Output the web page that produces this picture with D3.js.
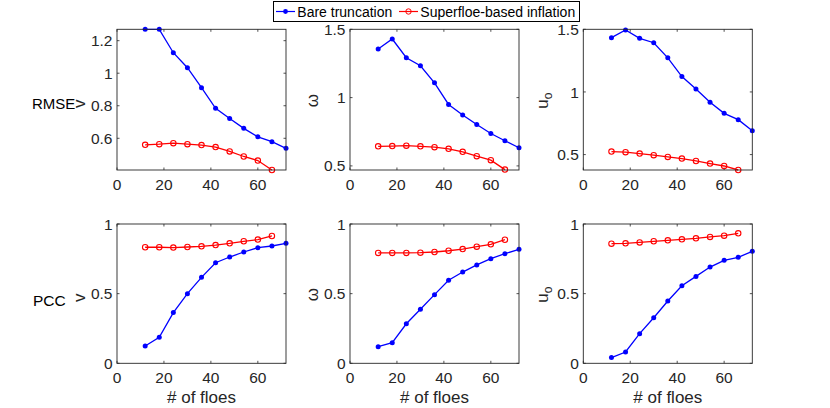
<!DOCTYPE html>
<html>
<head>
<meta charset="utf-8">
<script src="https://cdn.jsdelivr.net/npm/d3@7"></script>
<style>
  body { margin: 0; background: #fff; }
  svg { display: block; font-family: "Liberation Sans", Arial, sans-serif; }
</style>
</head>
<body>
<div id="chart"></div>
<script>
// number of floes (x values)
const floes = [12, 18, 24, 30, 36, 42, 48, 54, 60, 66, 72];

// RMSE, bare truncation
const rmseBareV = [1.27, 1.27, 1.126, 1.034, 0.911, 0.784, 0.722, 0.661, 0.609, 0.579, 0.538];
const rmseBareW = [1.356, 1.429, 1.292, 1.233, 1.108, 0.950, 0.872, 0.803, 0.737, 0.684, 0.633];
const rmseBareU = [1.433, 1.495, 1.428, 1.393, 1.272, 1.123, 1.024, 0.917, 0.829, 0.779, 0.691];
// RMSE, superfloe-based inflation
const rmseSuperV = [0.560, 0.564, 0.570, 0.564, 0.558, 0.546, 0.519, 0.488, 0.463, 0.405];
const rmseSuperW = [0.643, 0.645, 0.648, 0.643, 0.637, 0.625, 0.603, 0.571, 0.542, 0.473];
const rmseSuperU = [0.524, 0.519, 0.508, 0.495, 0.481, 0.468, 0.449, 0.428, 0.409, 0.377];

// PCC, bare truncation
const pccBareV = [0.124, 0.187, 0.364, 0.500, 0.617, 0.722, 0.763, 0.799, 0.830, 0.842, 0.861];
const pccBareW = [0.119, 0.148, 0.284, 0.388, 0.493, 0.596, 0.655, 0.706, 0.751, 0.787, 0.818];
const pccBareU = [0.041, 0.081, 0.213, 0.327, 0.447, 0.557, 0.624, 0.691, 0.739, 0.761, 0.804];
// PCC, superfloe-based inflation
const pccSuperV = [0.833, 0.833, 0.831, 0.835, 0.840, 0.849, 0.861, 0.876, 0.888, 0.914];
const pccSuperW = [0.792, 0.792, 0.792, 0.794, 0.799, 0.808, 0.820, 0.837, 0.854, 0.887];
const pccSuperU = [0.859, 0.861, 0.868, 0.876, 0.883, 0.890, 0.897, 0.907, 0.916, 0.933];

const seriesNames = ["Bare truncation", "Superfloe-based inflation"];
const rowLabels = ["RMSE", "PCC"];
const varLabels = [["v", ""], ["ω", ""], ["u", "o"]];
const xTicks = [0, 20, 40, 60];
const xLimits = [0, 72];
const rmseYLimits = [[0.405, 1.27], [0.47, 1.5], [0.377, 1.5]];
const rmseYTicks = [[0.6, 0.8, 1, 1.2], [0.5, 1, 1.5], [0.5, 1, 1.5]];
const pccYLimits = [0, 1];
const pccYTicks = [0, 0.5, 1];

const panels = [
  { row: 0, col: 0, bare: rmseBareV, sup: rmseSuperV, ylim: rmseYLimits[0], yticks: rmseYTicks[0] },
  { row: 0, col: 1, bare: rmseBareW, sup: rmseSuperW, ylim: rmseYLimits[1], yticks: rmseYTicks[1] },
  { row: 0, col: 2, bare: rmseBareU, sup: rmseSuperU, ylim: rmseYLimits[2], yticks: rmseYTicks[2] },
  { row: 1, col: 0, bare: pccBareV, sup: pccSuperV, ylim: pccYLimits, yticks: pccYTicks },
  { row: 1, col: 1, bare: pccBareW, sup: pccSuperW, ylim: pccYLimits, yticks: pccYTicks },
  { row: 1, col: 2, bare: pccBareU, sup: pccSuperU, ylim: pccYLimits, yticks: pccYTicks }
];

const width = 830, height = 408;
const axColor = "#262626";
const colLeft = [117, 350, 583.3];
const panelW = 169;
const rowTop = [29.3, 224];
const panelH = [140.7, 139.3];
const tickLen = 2.5;
const fmt = d3.format("~g");

const svg = d3.select("#chart").append("svg")
  .attr("width", width)
  .attr("height", height);

panels.forEach(p => {
  const x0 = colLeft[p.col], y0 = rowTop[p.row], h = panelH[p.row];
  const x = d3.scaleLinear().domain(xLimits).range([x0, x0 + panelW]);
  const y = d3.scaleLinear().domain(p.ylim).range([y0 + h, y0]);

  const g = svg.append("g");

  // ticks inward on all four sides
  const tk = g.append("g").attr("stroke", axColor).attr("stroke-width", 0.8);
  xTicks.forEach(t => {
    tk.append("line").attr("x1", x(t)).attr("x2", x(t)).attr("y1", y0 + h).attr("y2", y0 + h - tickLen);
    tk.append("line").attr("x1", x(t)).attr("x2", x(t)).attr("y1", y0).attr("y2", y0 + tickLen);
  });
  p.yticks.forEach(t => {
    tk.append("line").attr("x1", x0).attr("x2", x0 + tickLen).attr("y1", y(t)).attr("y2", y(t));
    tk.append("line").attr("x1", x0 + panelW).attr("x2", x0 + panelW - tickLen).attr("y1", y(t)).attr("y2", y(t));
  });

  g.append("g").selectAll("text").data(xTicks).enter().append("text")
    .attr("x", d => x(d))
    .attr("y", y0 + h + 19.5)
    .attr("text-anchor", "middle")
    .attr("fill", axColor)
    .style("font-size", "15.5px")
    .text(fmt);

  g.append("g").selectAll("text").data(p.yticks).enter().append("text")
    .attr("x", x0 - 4.5)
    .attr("y", d => y(d))
    .attr("dy", "0.36em")
    .attr("text-anchor", "end")
    .attr("fill", axColor)
    .style("font-size", "15.5px")
    .text(fmt);

  // series
  const line = (vals) => d3.line().x((d, i) => x(floes[i])).y(d => y(d))(vals);
  g.append("path").attr("d", line(p.bare)).attr("fill", "none").attr("stroke", "#0000ff").attr("stroke-width", 1.3);
  g.append("path").attr("d", line(p.sup)).attr("fill", "none").attr("stroke", "#ff0000").attr("stroke-width", 1.3);
  g.append("g").selectAll("circle").data(p.bare).enter().append("circle")
    .attr("cx", (d, i) => x(floes[i])).attr("cy", d => y(d)).attr("r", 2.5)
    .attr("fill", "#0000ff");
  g.append("g").selectAll("circle").data(p.sup).enter().append("circle")
    .attr("cx", (d, i) => x(floes[i])).attr("cy", d => y(d)).attr("r", 2.7)
    .attr("fill", "none").attr("stroke", "#ff0000").attr("stroke-width", 1.1);

  // box
  g.append("rect")
    .attr("x", x0).attr("y", y0).attr("width", panelW).attr("height", h)
    .attr("fill", "none").attr("stroke", axColor).attr("stroke-width", 0.9);

  // rotated y label
  const lab = varLabels[p.col];
  const yl = g.append("text")
    .attr("transform", `translate(${x0 - (lab[1] ? 35 : 32)},${y0 + h / 2 + (p.col === 0 ? 4 : 1)}) rotate(-90)`)
    .attr("text-anchor", "middle")
    .attr("fill", axColor)
    .style("font-size", "17px")
    .text(lab[0]);
  if (lab[1]) {
    yl.append("tspan").attr("dy", "0.3em").style("font-size", "12px").text(lab[1]);
  }

  if (p.row === 1) {
    g.append("text")
      .attr("x", x0 + panelW / 2)
      .attr("y", 402.5)
      .attr("text-anchor", "middle")
      .attr("fill", axColor)
      .style("font-size", "17px")
      .text("# of floes");
  }
});

// row labels
svg.append("text").attr("x", 32).attr("y", 109).attr("fill", "#000").style("font-size", "15px").text(rowLabels[0]);
svg.append("text").attr("x", 33).attr("y", 306).attr("fill", "#000").style("font-size", "15.5px").text(rowLabels[1]);

// legend
const legend = svg.append("g");
legend.append("rect")
  .attr("x", 273.5).attr("y", 1.5).attr("width", 306).attr("height", 20)
  .attr("fill", "#fff").attr("stroke", "#000").attr("stroke-width", 1);
const legItems = [
  { name: seriesNames[0], x: 276, color: "#0000ff", filled: true },
  { name: seriesNames[1], x: 399, color: "#ff0000", filled: false }
];
legItems.forEach(it => {
  legend.append("line").attr("x1", it.x).attr("x2", it.x + 19).attr("y1", 11.5).attr("y2", 11.5)
    .attr("stroke", it.color).attr("stroke-width", 1.2);
  legend.append("circle").attr("cx", it.x + 9.5).attr("cy", 11.5).attr("r", it.filled ? 2.4 : 2.7)
    .attr("fill", it.filled ? it.color : "none")
    .attr("stroke", it.filled ? "none" : it.color);
  legend.append("text").attr("x", it.x + 21.3).attr("y", 16.5)
    .attr("fill", "#000").style("font-size", "14px").text(it.name);
});
</script>
</body>
</html>
